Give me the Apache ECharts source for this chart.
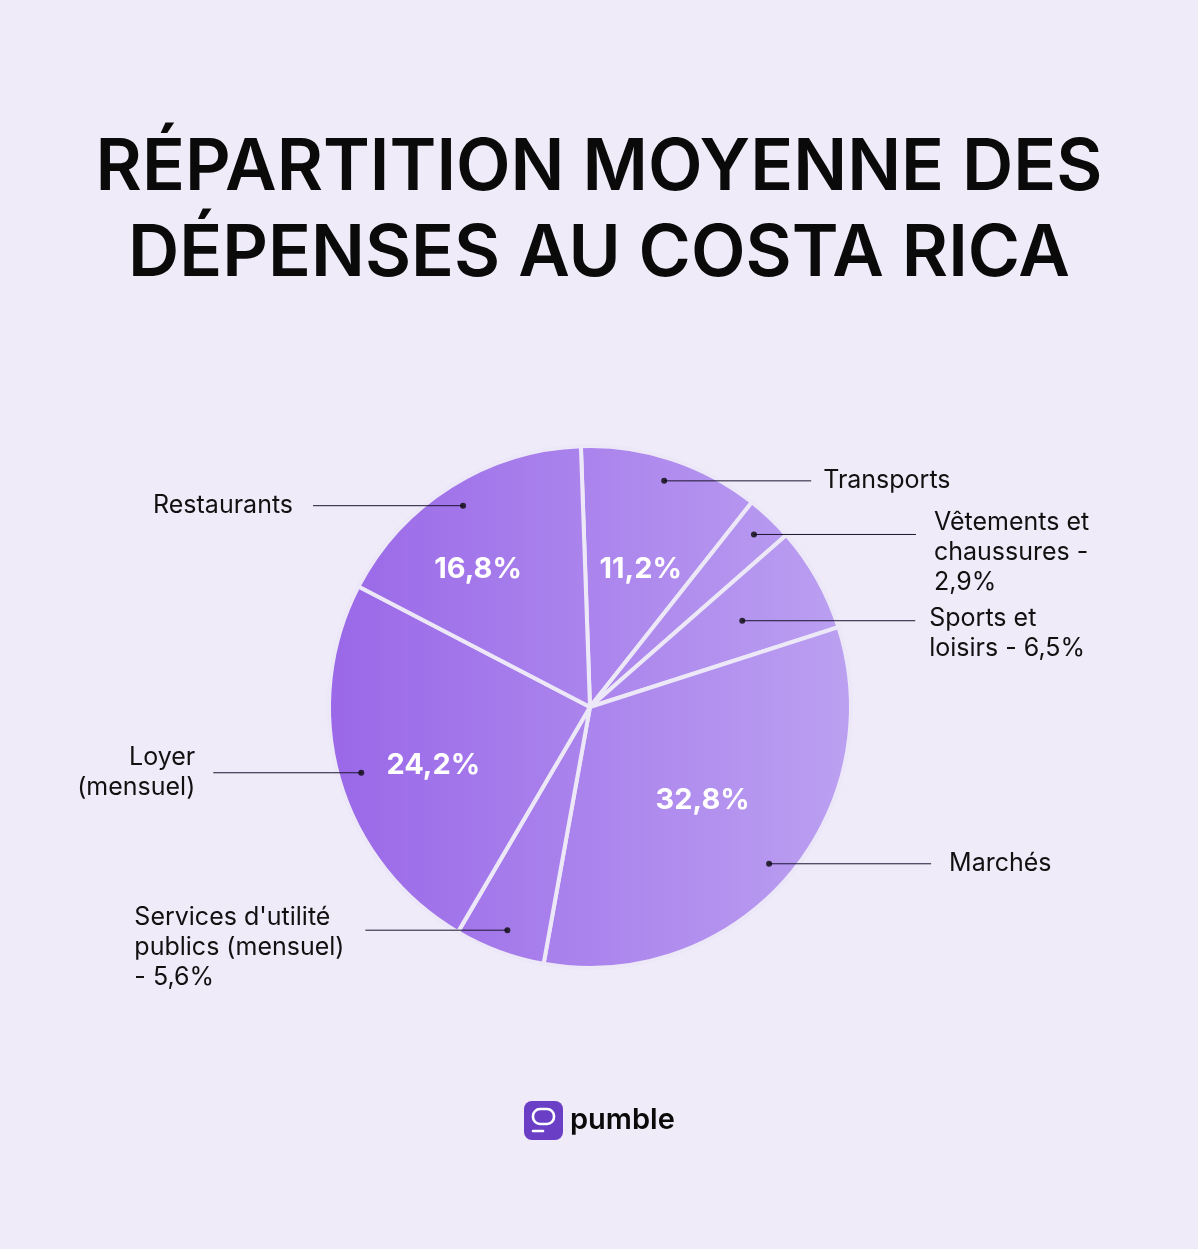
<!DOCTYPE html>
<html>
<head>
<meta charset="utf-8">
<script src="https://cdn.jsdelivr.net/npm/echarts@6/dist/echarts.min.js"></script>
<style>
  html, body { margin: 0; padding: 0; background: #efebf9; }
  #chart { width: 1198px; height: 1249px; }
</style>
</head>
<body>
<div id="chart"></div>
<script>
// catégories et valeurs (sens horaire depuis le haut)
var categories = ['Transports', 'Vêtements et chaussures', 'Sports et loisirs', 'Marchés',
  "Services d'utilité publics (mensuel)", 'Loyer (mensuel)', 'Restaurants'];
var values = [11.2, 2.9, 6.5, 32.8, 5.6, 24.2, 16.8];
// texte des étiquettes extérieures
var outerLabels = ['Transports', 'Vêtements et\nchaussures -\n2,9%', 'Sports et\nloisirs - 6,5%', 'Marchés',
  "Services d'utilité\npublics (mensuel)\n- 5,6%", 'Loyer\n(mensuel)', 'Restaurants'];
// pourcentages affichés dans les parts
var innerLabels = ['11,2%', '', '', '32,8%', '', '24,2%', '16,8%'];

// mise en page (pas des données)
var CENTER = [590, 707];
var START = 92;
var R_PIE = 261;
var R_DOT = 238;       // rayon des points d'attache
var R_DOT_SMALL = 175; // rayon pour "Sports et loisirs"
var lineLen = [147, 162, 173, 162, 142, 148, 150];
var lineGap = [12, 18, 14, 18, 16, 18, 20];
var outerPad = [[0, 0, 0, 0], [36, 0, 0, 0], [26, 0, 0, 0], [0, 0, 0, 0], [34, 0, 0, 0], [0, 0, 0, 0], [0, 0, 0, 0]];
var innerShift = [[0, 17], [0, 0], [0, 0], [-10, -14], [0, 0], [0, 13], [-25, 0]];

var myChart = echarts.init(document.getElementById('chart'));

var pieData = categories.map(function (c, i) { return { name: c, value: values[i] }; });

// position angulaire (en %) du milieu de chaque part
var total = values.reduce(function (a, b) { return a + b; }, 0);
var acc = 0;
var mids = values.map(function (v) { var m = (acc + v / 2) / total * 100; acc += v; return m; });
var dotData = mids.map(function (m, i) { return [i === 2 ? R_DOT_SMALL : R_DOT, m]; });

var labelFont = { fontFamily: 'Inter', fontSize: 25, lineHeight: 30, color: '#111111' };

function labelPie(radius, showIdx) {
  return {
    type: 'pie',
    silent: true,
    z: 5,
    center: CENTER,
    radius: radius,
    startAngle: START,
    avoidLabelOverlap: false,
    labelLayout: { hideOverlap: false },
    itemStyle: { color: 'rgba(0,0,0,0)' },
    emphasis: { disabled: true },
    data: categories.map(function (c, i) {
      var show = showIdx.indexOf(i) >= 0;
      return {
        name: c,
        value: values[i],
        label: {
          show: show,
          formatter: i === 4
            ? outerLabels[i].split('\n').map(function (s) { return '{l|' + s + '}'; }).join('\n')
            : outerLabels[i],
          padding: outerPad[i],
          distanceToLabelLine: lineGap[i]
        },
        labelLine: { show: show, length2: lineLen[i] }
      };
    }),
    label: Object.assign({
      position: 'outside',
      rich: { l: Object.assign({ width: 215, align: 'left' }, labelFont) }
    }, labelFont),
    labelLine: {
      length: 0,
      length2: 155,
      lineStyle: { color: '#1c1530', width: 1 }
    }
  };
}

var option = {
  backgroundColor: '#efebf9',
  title: {
    text: 'RÉPARTITION MOYENNE DES\nDÉPENSES AU COSTA RICA',
    left: 'center',
    top: 121,
    textStyle: {
      fontFamily: 'Inter',
      fontWeight: 600,
      fontSize: 71,
      lineHeight: 86,
      color: '#0a0a0a',
      align: 'center'
    }
  },
  polar: { center: CENTER, radius: R_PIE },
  angleAxis: { type: 'value', min: 0, max: 100, startAngle: START, clockwise: true, show: false },
  radiusAxis: { type: 'value', min: 0, max: R_PIE, show: false },
  series: [
    {
      type: 'pie',
      silent: true,
      center: CENTER,
      radius: R_PIE,
      startAngle: START,
      label: { show: false },
      labelLine: { show: false },
      itemStyle: {
        color: new echarts.graphic.LinearGradient(332, 0, 849, 0, [
          { offset: 0, color: '#9a68e8' },
          { offset: 1, color: '#bba0f1' }
        ], true),
        borderColor: '#ede8f8',
        borderWidth: 4
      },
      data: pieData
    },
    // pourcentages internes
    {
      type: 'pie',
      silent: true,
      z: 4,
      center: CENTER,
      radius: 320,
      startAngle: START,
      itemStyle: { color: 'rgba(0,0,0,0)' },
      labelLayout: function (p) {
        return { dx: innerShift[p.dataIndex][0], dy: innerShift[p.dataIndex][1], hideOverlap: false };
      },
      label: {
        position: 'inside',
        color: '#ffffff',
        fontFamily: 'Inter',
        fontWeight: 700,
        fontSize: 29
      },
      labelLine: { show: false },
      data: categories.map(function (c, i) {
        return { name: c, value: values[i], label: { formatter: innerLabels[i] } };
      })
    },
    labelPie(R_DOT, [0, 1, 3, 4, 5, 6]),
    labelPie(R_DOT_SMALL, [2]),
    {
      type: 'scatter',
      coordinateSystem: 'polar',
      silent: true,
      symbol: 'circle',
      symbolSize: 6,
      itemStyle: { color: '#0a0a0a' },
      z: 10,
      data: dotData
    }
  ],
  graphic: [
    {
      type: 'group',
      left: 524,
      top: 1101,
      children: [
        { type: 'rect', shape: { x: 0, y: 0, width: 39, height: 39, r: 8 }, style: { fill: '#6a3fc6' } },
        { type: 'rect', shape: { x: 9, y: 8, width: 21, height: 15, r: 7 }, style: { fill: 'none', stroke: '#ffffff', lineWidth: 2.6 } },
        { type: 'line', shape: { x1: 9, y1: 30, x2: 19, y2: 30 }, style: { stroke: '#ffffff', lineWidth: 2.6, lineCap: 'round' } },
        { type: 'text', x: 46, y: 19, style: { text: 'pumble', fill: '#0a0a0a', font: '600 29px Inter', textVerticalAlign: 'middle' } }
      ]
    }
  ]
};

myChart.setOption(option);
window.addEventListener('resize', function () { myChart.resize(); });
</script>
</body>
</html>
